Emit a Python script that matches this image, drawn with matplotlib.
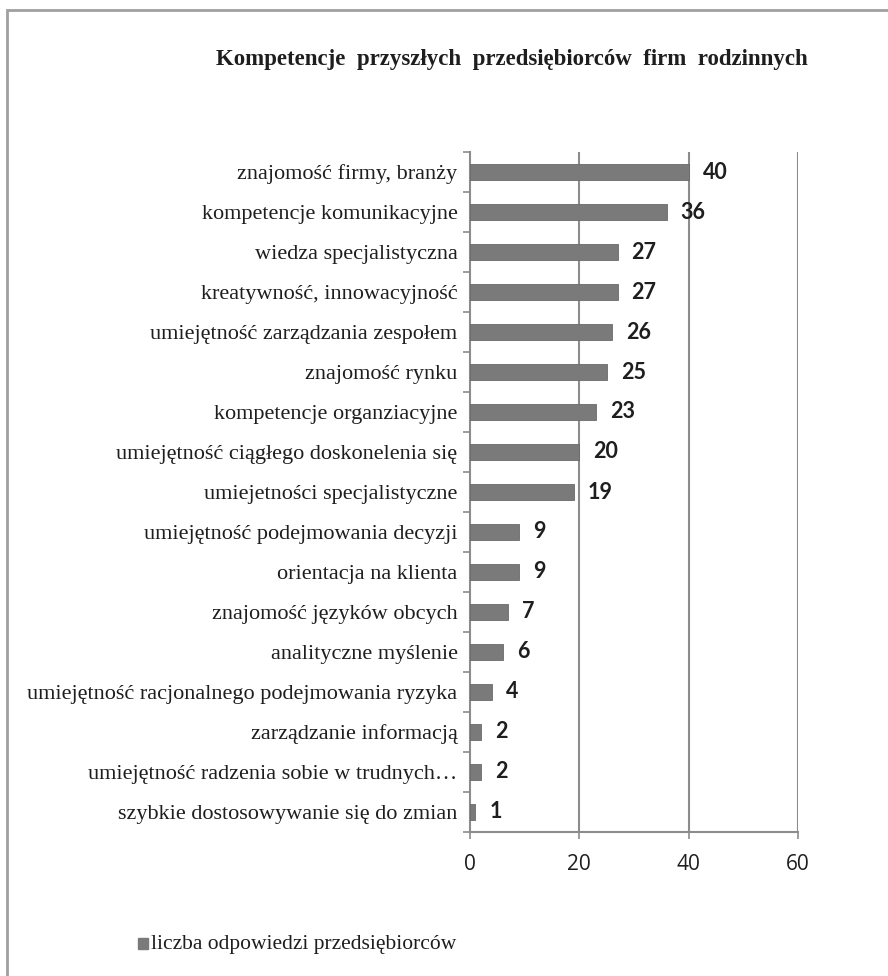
import matplotlib.pyplot as plt
from matplotlib.patches import Rectangle

# data
categories = [
    'znajomość firmy, branży',
    'kompetencje komunikacyjne',
    'wiedza specjalistyczna',
    'kreatywność, innowacyjność',
    'umiejętność zarządzania zespołem',
    'znajomość rynku',
    'kompetencje organziacyjne',
    'umiejętność ciągłego doskonelenia się',
    'umiejetności specjalistyczne',
    'umiejętność podejmowania decyzji',
    'orientacja na klienta',
    'znajomość języków obcych',
    'analityczne myślenie',
    'umiejętność racjonalnego podejmowania ryzyka',
    'zarządzanie informacją',
    'umiejętność radzenia sobie w trudnych…',
    'szybkie dostosowywanie się do zmian',
]
values = [40, 36, 27, 27, 26, 25, 23, 20, 19, 9, 9, 7, 6, 4, 2, 2, 1]
xticks = [0, 20, 40, 60]
title = 'Kompetencje  przyszłych  przedsiębiorców  firm  rodzinnych'
series_name = 'liczba odpowiedzi przedsiębiorców'

grid_col = '#8c8c8c'
bar_col = '#7a7a7a'
txt_col = '#1e1e1e'
serif = ['Liberation Serif', 'DejaVu Serif']
sans = ['Open Sans', 'DejaVu Sans']

W, H = 888, 976
fig = plt.figure(figsize=(W / 100, H / 100), dpi=100)

# outer frame (only top and left edges fall inside the image)
fig.patches.append(Rectangle((7 / W, -0.1), 1.2, (H - 10) / H + 0.1,
                             transform=fig.transFigure, fill=False,
                             edgecolor='#a0a0a0', linewidth=2))

ax = fig.add_axes([470 / W, 144 / H, 328 / W, 680 / H])

pos = list(range(len(categories)))
ax.barh(pos, values, height=0.4, color=bar_col, edgecolor='#6a6a6a', linewidth=0.6, zorder=3)
ax.set_ylim(len(categories) - 0.5, -0.5)
ax.set_xlim(0, 60)

for p, v in zip(pos, values):
    ax.annotate(str(v), (v, p), xytext=(14, 0), textcoords='offset pixels',
                ha='left', va='center', fontsize=15.5, fontweight='bold',
                family=['Lato', 'DejaVu Sans'], color=txt_col)

# vertical gridlines
for t in xticks[1:]:
    ax.axvline(t, color=grid_col, linewidth=1.5, zorder=1)

for s in ['top', 'right']:
    ax.spines[s].set_visible(False)
for s in ['left', 'bottom']:
    ax.spines[s].set_color(grid_col)
    ax.spines[s].set_linewidth(1.5)

ax.set_xticks(xticks)
ax.set_xticklabels([str(t) for t in xticks], fontsize=15, family=sans, color=txt_col)
ax.tick_params(axis='x', length=5, width=1.2, color=grid_col, pad=11)

# category labels centred, ticks on the boundaries between categories
ax.set_yticks(pos)
ax.set_yticklabels(categories, fontsize=16, family=serif, color=txt_col)
ax.tick_params(axis='y', length=0, pad=9)
ax.set_yticks([p - 0.5 for p in pos] + [len(pos) - 0.5], minor=True)
ax.tick_params(axis='y', which='minor', length=5, width=1.2, color=grid_col)

fig.text(512 / W, 1 - 60 / H, title, ha='center', va='center',
         fontsize=16.5, fontweight='bold', family=serif, color=txt_col)

# legend
fig.patches.append(Rectangle((138 / W, 1 - 949 / H), 10 / W, 11 / H,
                             transform=fig.transFigure, color=bar_col))
fig.text(151 / W, 1 - 945 / H, series_name, ha='left', va='center',
         fontsize=15.5, family=serif, color=txt_col)

fig.savefig('out.png', dpi=100)
